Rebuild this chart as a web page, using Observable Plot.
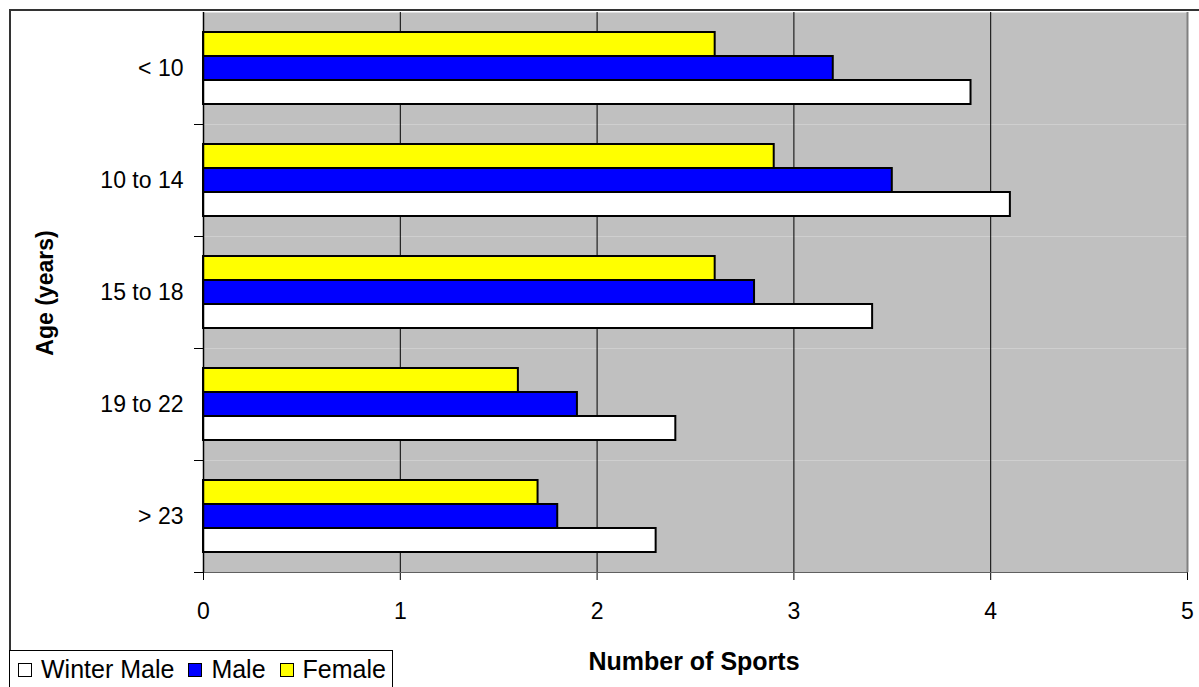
<!DOCTYPE html>
<html>
<head>
<meta charset="utf-8">
<script src="https://cdn.jsdelivr.net/npm/d3@7"></script>
<script src="https://cdn.jsdelivr.net/npm/@observablehq/plot@0.6"></script>
<style>
  html, body { margin: 0; padding: 0; background: #fff; overflow: hidden; }
  #wrap { position: relative; width: 1199px; height: 687px; font-family: "Liberation Sans", Arial, sans-serif; color: #000; }
  #chart { position: absolute; left: 0; top: 0; }
  .frame { position: absolute; left: 9px; top: 9px; width: 1300px; height: 800px; border-left: 2px solid #333; border-top: 2px solid #333; pointer-events: none; }
  .title { position: absolute; font-weight: bold; white-space: nowrap; }
  #xlabel { left: 694px; top: 661px; font-size: 25px; transform: translate(-50%, -50%); }
  #ylabel { left: 45px; top: 293px; font-size: 23px; transform: translate(-50%, -50%) rotate(-90deg); }
  #legend { position: absolute; left: 9px; top: 650px; width: 384px; height: 60px; border: 1px solid #000; background: #fff; box-sizing: border-box; }
  #legend .items { display: flex; flex-wrap: nowrap; white-space: nowrap; align-items: center; position: absolute; left: 8px; top: 5px; width: 400px; height: 27px; font-size: 25px; line-height: 27px; }
  #legend .sw { flex: 0 0 auto; width: 12px; height: 12px; border: 1.5px solid #000; margin-right: 9px; box-sizing: content-box; }
  #legend .item { flex: 0 0 auto; display: flex; align-items: center; margin-right: 14px; white-space: nowrap; }
</style>
</head>
<body>
<div id="wrap">
  <div id="chart"></div>
  <div class="frame"></div>
  <div class="title" id="xlabel"></div>
  <div class="title" id="ylabel"></div>
  <div id="legend"><div class="items"></div></div>
</div>
<script>
// ---- data ----
const ages = ["< 10", "10 to 14", "15 to 18", "19 to 22", "> 23"];
const seriesNames = ["Winter Male", "Male", "Female"];
const winterMale = [3.9, 4.1, 3.4, 2.4, 2.3];
const male = [3.2, 3.5, 2.8, 1.9, 1.8];
const female = [2.6, 2.9, 2.6, 1.6, 1.7];
const seriesColors = ["#FFFFFF", "#0000FF", "#FFFF00"];
const xTicks = [0, 1, 2, 3, 4, 5];
const gridValues = [1, 2, 3, 4];
const xTitle = "Number of Sports";
const yTitle = "Age (years)";

// ---- build table ----
const seriesValues = [winterMale, male, female];
const rows = seriesNames.flatMap((s, si) =>
  ages.map((a, ai) => ({ age: a, series: s, value: seriesValues[si][ai] }))
);

const W = 1199, H = 687, ML = 203, MR = 12, MT = 10, MB = 114;

const chart = Plot.plot({
  width: W,
  height: H,
  marginLeft: ML,
  marginRight: MR,
  marginTop: MT,
  marginBottom: MB,
  style: { fontFamily: "'Liberation Sans', Arial, sans-serif", fontSize: "23px", color: "#000", background: "transparent", overflow: "visible" },
  x: { domain: [0, 5], ticks: xTicks, tickFormat: d => String(d), tickSize: 8, tickPadding: 22, label: null, line: true },
  y: { domain: ["Female", "Male", "Winter Male"], paddingInner: 0, paddingOuter: 0.76, axis: null },
  fy: { domain: ages, padding: 0, label: null, tickSize: 0, tickPadding: 20, axis: "left" },
  color: { domain: seriesNames, range: seriesColors },
  marks: [
    Plot.frame({ fill: "#C0C0C0", stroke: null }),
    Plot.ruleX(gridValues, { stroke: "#000", strokeWidth: 1 }),
    Plot.ruleX([5], { stroke: "#808080", strokeWidth: 2 }),
    Plot.barX(rows, { x: "value", y: "series", fy: "age", fill: "series", stroke: "#000", strokeWidth: 2 }),
    Plot.ruleX([0], { stroke: "#000", strokeWidth: 1.5 }),
    Plot.frame({ anchor: "bottom", stroke: "#000", strokeWidth: 1, insetLeft: -9, insetRight: W - ML - MR })
  ]
});
document.getElementById("chart").appendChild(chart);

document.getElementById("xlabel").textContent = xTitle;
document.getElementById("ylabel").textContent = yTitle;

const items = document.querySelector("#legend .items");
seriesNames.forEach((s, i) => {
  const it = document.createElement("div");
  it.className = "item";
  const sw = document.createElement("div");
  sw.className = "sw";
  sw.style.background = seriesColors[i];
  const t = document.createElement("span");
  t.textContent = s;
  it.appendChild(sw);
  it.appendChild(t);
  items.appendChild(it);
});
</script>
</body>
</html>
